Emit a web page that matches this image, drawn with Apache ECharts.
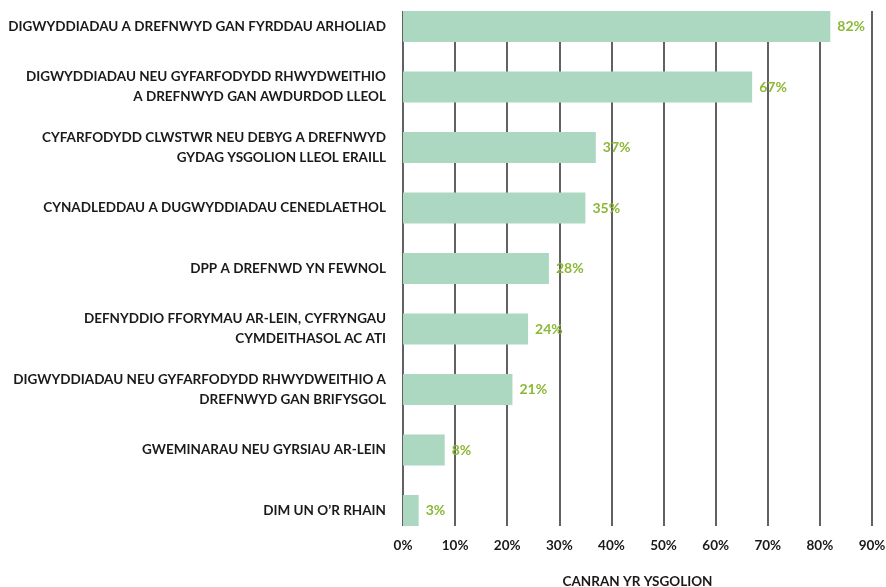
<!DOCTYPE html>
<html><head><meta charset="utf-8">
<script src="https://cdn.jsdelivr.net/npm/echarts@6/dist/echarts.min.js"></script>
<style>html,body{margin:0;padding:0;background:#fff}#c{width:886px;height:587px}</style>
</head><body><div id="c"></div>
<script>
const categories = [
  "DIGWYDDIADAU A DREFNWYD GAN FYRDDAU ARHOLIAD",
  "DIGWYDDIADAU NEU GYFARFODYDD RHWYDWEITHIO\nA DREFNWYD GAN AWDURDOD LLEOL",
  "CYFARFODYDD CLWSTWR NEU DEBYG A DREFNWYD\nGYDAG YSGOLION LLEOL ERAILL",
  "CYNADLEDDAU A DUGWYDDIADAU CENEDLAETHOL",
  "DPP A DREFNWD YN FEWNOL",
  "DEFNYDDIO FFORYMAU AR-LEIN, CYFRYNGAU\nCYMDEITHASOL AC ATI",
  "DIGWYDDIADAU NEU GYFARFODYDD RHWYDWEITHIO A\nDREFNWYD GAN BRIFYSGOL",
  "GWEMINARAU NEU GYRSIAU AR-LEIN",
  "DIM UN O\u2019R RHAIN"
];
const values = [82, 67, 37, 35, 28, 24, 21, 8, 3];
const axisTitle = "CANRAN YR YSGOLION";
const xMin = 0, xMax = 90, xStep = 10;

const font = "Lato";
const chart = echarts.init(document.getElementById('c'), null, {renderer: 'canvas'});
chart.setOption({
  animation: false,
  backgroundColor: '#fff',
  grid: [
    {left: 403, right: 14, top: 26.5, bottom: 76.5, containLabel: false, outerBoundsMode: 'none'},
    {left: 403, right: 14, top: 11, bottom: 61, containLabel: false, outerBoundsMode: 'none'}
  ],
  xAxis: [
    {gridIndex: 0, type: 'value', min: xMin, max: xMax, interval: xStep, show: false},
    {gridIndex: 1, type: 'value', min: xMin, max: xMax, interval: xStep,
     axisLine: {show: false}, axisTick: {show: false},
     splitLine: {show: true, lineStyle: {color: '#3a3a3a', width: 1.6}},
     axisLabel: {formatter: '{value}%', color: '#1a1a1a', fontFamily: font, fontWeight: 'bold', fontSize: 13.5, margin: 13},
     name: axisTitle, nameLocation: 'middle', nameGap: 49,
     nameTextStyle: {color: '#1a1a1a', fontFamily: font, fontWeight: 'bold', fontSize: 13.5}
    }
  ],
  yAxis: [
    {gridIndex: 0, type: 'category', data: categories, inverse: true, boundaryGap: false,
     axisLine: {show: false}, axisTick: {show: false}, splitLine: {show: false},
     axisLabel: {color: '#1a1a1a', fontFamily: font, fontWeight: 'bold', fontSize: 13.5, lineHeight: 20, margin: 17, align: 'right'}
    },
    {gridIndex: 1, type: 'category', data: categories, inverse: true, show: false}
  ],
  series: [{
    type: 'bar', xAxisIndex: 0, yAxisIndex: 0, data: values, barWidth: 31, z: 5,
    itemStyle: {color: '#acd8c1'},
    label: {show: true, position: 'right', distance: 7, formatter: '{c}%', color: '#8bb836',
      fontFamily: font, fontWeight: 'bold', fontSize: 14}
  }]
});
</script></body></html>
